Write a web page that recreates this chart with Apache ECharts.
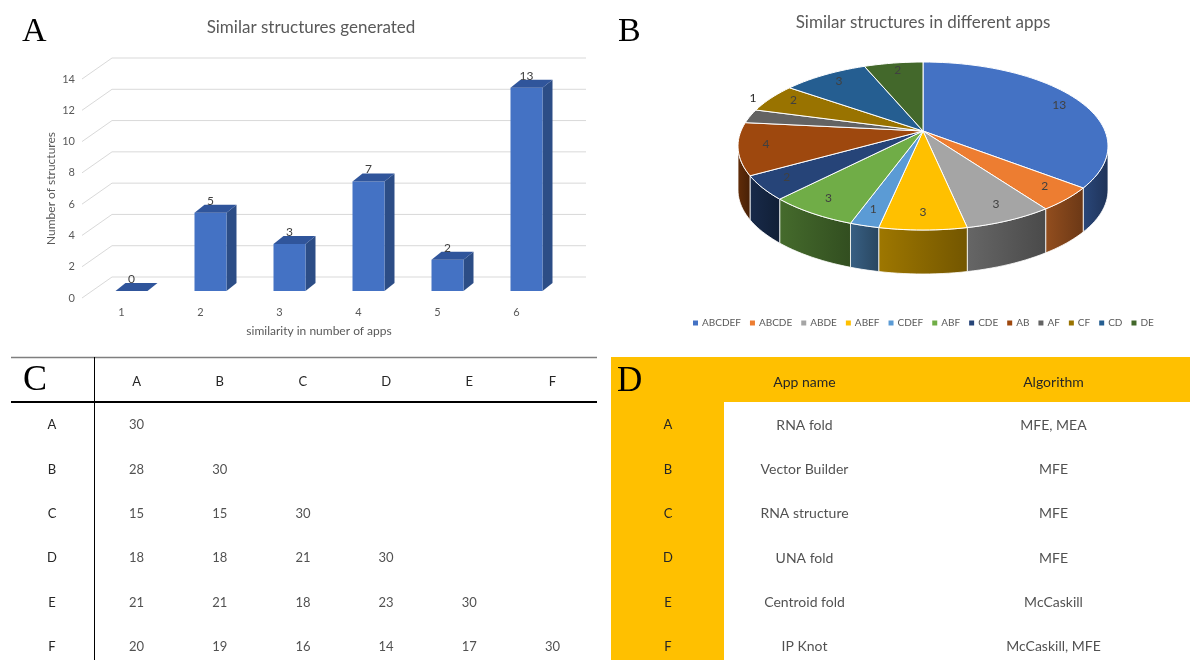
<!DOCTYPE html>
<html>
<head>
<meta charset="utf-8">
<script src="https://cdn.jsdelivr.net/npm/echarts@6/dist/echarts.min.js"></script>
<style>
  html, body { margin: 0; padding: 0; background: #fff; }
  #main { width: 1190px; height: 660px; }
</style>
</head>
<body>
<div id="main"></div>
<script>
  var FONT = 'Lato, "Open Sans", sans-serif';
  var SERIF = '"Liberation Serif", "DejaVu Serif", serif';

  // A - similar structures generated
  var simCategories = ['1', '2', '3', '4', '5', '6'];
  var simCounts = [0, 5, 3, 7, 2, 13];
  var simTicks = [0, 2, 4, 6, 8, 10, 12, 14];

  // B - similar structures in different apps
  var pieNames = ['ABCDEF', 'ABCDE', 'ABDE', 'ABEF', 'CDEF', 'ABF', 'CDE', 'AB', 'AF', 'CF', 'CD', 'DE'];
  var pieValues = [13, 2, 3, 3, 1, 3, 2, 4, 1, 2, 3, 2];
  var pieColors = ['#4472C4', '#ED7D31', '#A5A5A5', '#FFC000', '#5B9BD5', '#70AD47',
                   '#264478', '#9E480E', '#636363', '#997300', '#255E91', '#43682B'];
  var pieOutsideLabels = ['AF'];

  // C - pairwise overlap between apps
  var appLetters = ['A', 'B', 'C', 'D', 'E', 'F'];
  var overlapRows = [
    [30],
    [28, 30],
    [15, 15, 30],
    [18, 18, 21, 30],
    [21, 21, 18, 23, 30],
    [20, 19, 16, 14, 17, 30]
  ];

  // D - apps and algorithms
  var tableHeaders = ['App name', 'Algorithm'];
  var appNames = ['RNA fold', 'Vector Builder', 'RNA structure', 'UNA fold', 'Centroid fold', 'IP Knot'];
  var appAlgorithms = ['MFE, MEA', 'MFE', 'MFE', 'MFE', 'McCaskill', 'McCaskill, MFE'];

  var myChart = echarts.init(document.getElementById('main'));

  // ---- 3D bars (panel A)
  var WALL_DX = 30, WALL_DY = -21;
  function renderWall(params, api) {
    var cs = params.coordSys;
    var y = api.coord([0, api.value(1)])[1];
    return {
      type: 'polyline',
      shape: { points: [[cs.x, y], [cs.x + WALL_DX, y + WALL_DY], [cs.x + cs.width + WALL_DX, y + WALL_DY]] },
      style: { stroke: '#D9D9D9', lineWidth: 1, fill: null }
    };
  }

  function renderBar(params, api) {
    var top = api.coord([api.value(0), api.value(1)]);
    var base = api.coord([api.value(0), 0]);
    var band = api.size([1, 0])[0];
    var w = band * 0.405;
    var ox = 10, oy = -7, dx = 10, dy = -8;
    var x0 = top[0] - w / 2 + ox, x1 = x0 + w;
    var yT = top[1] + oy, yB = base[1] + oy;
    return {
      type: 'group',
      children: [
        { type: 'polygon', shape: { points: [[x1, yT], [x1 + dx, yT + dy], [x1 + dx, yB + dy], [x1, yB]] },
          style: { fill: '#2C4D86' } },
        { type: 'rect', shape: { x: x0, y: yT, width: w, height: yB - yT }, style: { fill: '#4472C4' } },
        { type: 'polygon', shape: { points: [[x0, yT], [x0 + dx, yT + dy], [x1 + dx, yT + dy], [x1, yT]] },
          style: { fill: '#30559B' } },
        { type: 'text', x: x0 + w / 2, y: yT - 12,
          style: { text: String(api.value(1)), fill: '#404040', font: '12px ' + FONT, align: 'center', verticalAlign: 'middle' } }
      ]
    };
  }

  // ---- 3D pie (panel B)
  var PIE = { cx: 923, cy: 146, ax: 923, ay: 131, rx: 185, ry: 84, depth: 44 };
  var pieTotal = pieValues.reduce(function (a, b) { return a + b; }, 0);
  var pieStart = [];
  (function () {
    var acc = 0;
    pieValues.forEach(function (v) { pieStart.push(acc / pieTotal * 360); acc += v; });
  })();

  function ellPt(deg, down) {
    var t = deg * Math.PI / 180;
    return [PIE.cx + PIE.rx * Math.sin(t), PIE.cy - PIE.ry * Math.cos(t) + (down || 0)];
  }
  function shade(hex, f) {
    var n = parseInt(hex.slice(1), 16);
    var r = (n >> 16) & 255, g = (n >> 8) & 255, b = n & 255;
    return 'rgb(' + Math.round(r * f) + ',' + Math.round(g * f) + ',' + Math.round(b * f) + ')';
  }

  function renderSlice(i) {
    return function (params, api) {
      var a0 = pieStart[i];
      var a1 = a0 + api.value(0) / pieTotal * 360;
      var color = pieColors[i];
      var children = [];
      var k;

      var pts = [[PIE.ax, PIE.ay]];
      var n = Math.max(2, Math.ceil((a1 - a0) / 2));
      for (k = 0; k <= n; k++) pts.push(ellPt(a0 + (a1 - a0) * k / n));
      children.push({ type: 'polygon', z2: 5, shape: { points: pts },
        style: { fill: color, stroke: '#fff', lineWidth: 1 } });

      var s0 = Math.max(a0, 90), s1 = Math.min(a1, 270);
      if (s1 > s0) {
        var up = [], down = [];
        var m = Math.max(2, Math.ceil((s1 - s0) / 2));
        for (k = 0; k <= m; k++) {
          var d = s0 + (s1 - s0) * k / m;
          up.push(ellPt(d));
          down.unshift(ellPt(d, PIE.depth));
        }
        children.push({ type: 'polygon', z2: 1, shape: { points: up.concat(down) },
          style: {
            fill: new echarts.graphic.LinearGradient(0, 0, 1, 0, [
              { offset: 0, color: shade(color, 0.62) },
              { offset: 1, color: shade(color, 0.45) }
            ]),
            stroke: '#fff', lineWidth: 0.8
          } });
      }

      var mid = ellPt((a0 + a1) / 2);
      var lx, ly, lc = '#404040';
      if (pieOutsideLabels.indexOf(pieNames[i]) >= 0) {
        lx = mid[0] + 3; ly = mid[1] - 18; lc = '#262626';
      } else {
        lx = PIE.cx + 0.85 * (mid[0] - PIE.cx);
        ly = PIE.cy - 5 + 0.85 * (mid[1] - PIE.cy);
      }
      children.push({ type: 'text', z2: 10, x: lx, y: ly,
        style: { text: String(api.value(0)), fill: lc, font: '12px ' + FONT, align: 'center', verticalAlign: 'middle' } });
      return { type: 'group', children: children };
    };
  }

  var pieSeries = pieNames.map(function (name, i) {
    return {
      type: 'custom',
      name: name,
      coordinateSystem: 'none',
      silent: true,
      itemStyle: { color: pieColors[i] },
      data: [[pieValues[i]]],
      renderItem: renderSlice(i)
    };
  });

  // ---- tables (panels C and D)
  var overlapData = [];
  overlapRows.forEach(function (row, r) {
    row.forEach(function (v, c) { overlapData.push([c, r, v]); });
  });
  var appData = [];
  appNames.forEach(function (nm, r) {
    appData.push({ value: [0, r], name: nm });
    appData.push({ value: [1, r], name: appAlgorithms[r] });
  });

  var axisText = { color: '#595959', fontSize: 11, fontFamily: FONT };
  var nameText = { color: '#595959', fontSize: 12, fontFamily: FONT };
  var cellText = { color: '#262626', fontSize: 13, fontFamily: FONT };
  var appText = { color: '#262626', fontSize: 14, fontFamily: FONT };

  var option = {
    backgroundColor: '#fff',
    animation: false,
    title: [
      { text: 'Similar structures generated', left: 311, top: 19, textAlign: 'center', padding: 0,
        textStyle: { fontSize: 17, fontWeight: 'normal', color: '#595959', fontFamily: FONT } },
      { text: 'Similar structures in different apps', left: 923, top: 14, textAlign: 'center', padding: 0,
        textStyle: { fontSize: 17, fontWeight: 'normal', color: '#595959', fontFamily: FONT } }
    ],
    legend: {
      data: pieNames,
      left: 693,
      top: 318,
      padding: 0,
      icon: 'rect',
      itemWidth: 5,
      itemHeight: 5,
      itemGap: 9,
      selectedMode: false,
      textStyle: { color: '#595959', fontSize: 10, fontFamily: FONT, padding: [0, 0, 0, -1] }
    },
    graphic: [
      { type: 'rect', z: -1, shape: { x: 611, y: 357, width: 579, height: 45 }, style: { fill: '#FFC000' } },
      { type: 'rect', z: -1, shape: { x: 611, y: 357, width: 113, height: 303 }, style: { fill: '#FFC000' } },
      { type: 'line', shape: { x1: 11, y1: 357.5, x2: 597, y2: 357.5 }, style: { stroke: '#7F7F7F', lineWidth: 1.5 } },
      { type: 'line', shape: { x1: 11, y1: 402, x2: 597, y2: 402 }, style: { stroke: '#000', lineWidth: 2 } },
      { type: 'line', shape: { x1: 94.5, y1: 357, x2: 94.5, y2: 660 }, style: { stroke: '#000', lineWidth: 1 } },
      { type: 'text', x: 22, y: 32, style: { text: 'A', font: '34px ' + SERIF, fill: '#000', align: 'left', verticalAlign: 'middle' } },
      { type: 'text', x: 618, y: 32, style: { text: 'B', font: '34px ' + SERIF, fill: '#000', align: 'left', verticalAlign: 'middle' } },
      { type: 'text', x: 23, y: 381, style: { text: 'C', font: '36px ' + SERIF, fill: '#000', align: 'left', verticalAlign: 'middle' } },
      { type: 'text', x: 617, y: 382, style: { text: 'D', font: '35px ' + SERIF, fill: '#000', align: 'left', verticalAlign: 'middle' } }
    ],
    grid: [
      { left: 82, top: 79, width: 474, height: 219, outerBoundsMode: 'none' },
      { left: 95, top: 403, width: 499, height: 266, outerBoundsMode: 'none' },
      { left: 680, top: 403, width: 498, height: 266, outerBoundsMode: 'none' }
    ],
    xAxis: [
      { gridIndex: 0, type: 'category', data: simCategories,
        axisLine: { show: false }, axisTick: { show: false },
        axisLabel: Object.assign({ margin: 9 }, axisText),
        name: 'similarity in number of apps', nameLocation: 'middle', nameGap: 27,
        nameTextStyle: nameText },
      { gridIndex: 1, type: 'category', data: appLetters, position: 'top', z: 5,
        axisLine: { show: false }, axisTick: { show: false },
        axisLabel: Object.assign({ margin: 15 }, cellText) },
      { gridIndex: 2, type: 'category', data: tableHeaders, position: 'top', z: 5,
        axisLine: { show: false }, axisTick: { show: false },
        axisLabel: Object.assign({ margin: 14 }, appText) }
    ],
    yAxis: [
      { gridIndex: 0, type: 'value', min: 0, max: 14, interval: 2,
        axisLine: { show: false }, axisTick: { show: false }, splitLine: { show: false },
        axisLabel: Object.assign({ margin: 7 }, axisText),
        name: 'Number of structures', nameLocation: 'middle', nameRotate: 90, nameGap: 25,
        nameTextStyle: nameText },
      { gridIndex: 1, type: 'category', data: appLetters, inverse: true, z: 5,
        axisLine: { show: false }, axisTick: { show: false },
        axisLabel: Object.assign({ margin: 43, align: 'center' }, cellText) },
      { gridIndex: 2, type: 'category', data: appLetters, inverse: true, z: 5,
        axisLine: { show: false }, axisTick: { show: false },
        axisLabel: Object.assign({ margin: 12, align: 'center' }, cellText) }
    ],
    series: [
      { type: 'custom', name: 'wall', xAxisIndex: 0, yAxisIndex: 0, silent: true,
        data: simTicks.map(function (v) { return [0, v]; }), renderItem: renderWall },
      { type: 'custom', name: 'bars', xAxisIndex: 0, yAxisIndex: 0, silent: true,
        data: simCounts.map(function (v, i) { return [i, v]; }), renderItem: renderBar },
      { type: 'scatter', name: 'overlap', xAxisIndex: 1, yAxisIndex: 1, silent: true,
        symbolSize: 1, itemStyle: { color: 'rgba(0,0,0,0)' },
        label: Object.assign({ show: true, position: 'inside', formatter: function (p) { return p.value[2]; } }, cellText),
        data: overlapData },
      { type: 'scatter', name: 'apps', xAxisIndex: 2, yAxisIndex: 2, silent: true,
        symbolSize: 1, itemStyle: { color: 'rgba(0,0,0,0)' },
        label: Object.assign({ show: true, position: 'inside', formatter: '{b}' }, appText),
        data: appData }
    ].concat(pieSeries)
  };

  myChart.setOption(option);
</script>
</body>
</html>
